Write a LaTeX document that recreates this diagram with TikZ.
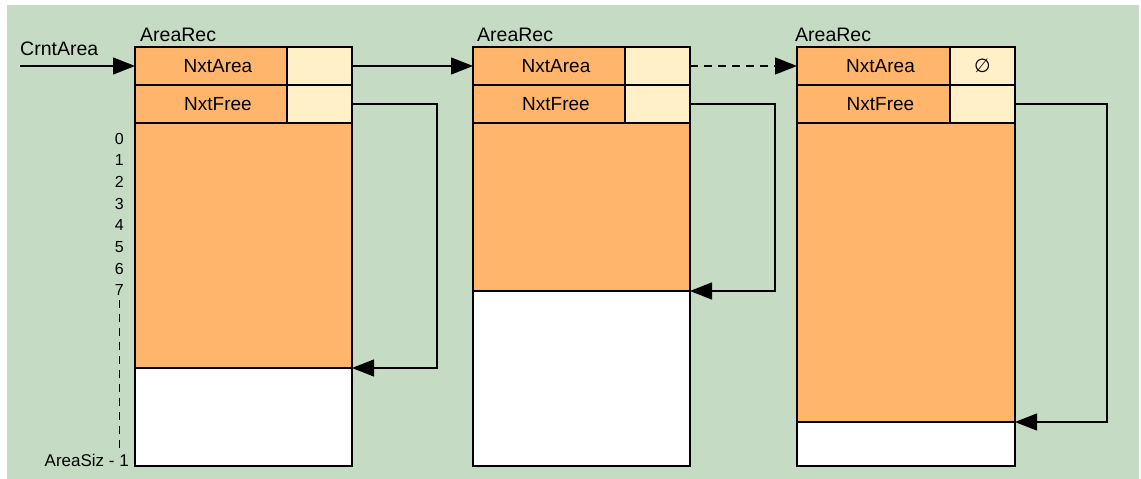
\documentclass[tikz,border=0pt]{standalone}
\usepackage{fontspec}
\setmainfont{Liberation Sans}
\newfontfamily\symfont{DejaVu Sans}
\usetikzlibrary{arrows.meta}

\definecolor{bggreen}{HTML}{C6DBC3}
\definecolor{cellorange}{HTML}{FFB66C}
\definecolor{cellcream}{HTML}{FFF0C8}

\tikzset{
  cell/.style={draw, line width=1.5pt, anchor=north west, inner sep=0pt, outer sep=0pt,
    font=\fontsize{19}{22}\selectfont},
  fieldcell/.style={cell, fill=cellorange, minimum width=152, minimum height=38},
  valcell/.style={cell, fill=cellcream, minimum width=65, minimum height=38},
  usedcell/.style={cell, fill=cellorange, minimum width=217},
  freecell/.style={cell, fill=white, minimum width=217},
  caption/.style={inner sep=0pt, anchor=base west, font=\fontsize{19.5}{22}\selectfont},
  idx/.style={inner sep=0pt, anchor=east, font=\fontsize{16}{18}\selectfont},
  link/.style={line width=1.3pt, -{Triangle[length=22pt,width=17pt]}},
  linkdash/.style={link, dash pattern=on 8pt off 6pt},
  guide/.style={line width=1pt, dash pattern=on 8pt off 6pt},
}

\begin{document}
\begin{tikzpicture}[x=1pt,y=-1pt]
  \useasboundingbox (0,0) rectangle (1141,479);
  \fill[bggreen] (7,5) rectangle (1139,479);

  % record 1
  \node[caption] (c1) at (140,41) {AreaRec};
  \node[fieldcell] (f1) at (135,47) {\hspace*{14pt}NxtArea};
  \node[valcell] (v1) at (287,47) {};
  \node[fieldcell] (g1) at (135,85) {\hspace*{14pt}NxtFree};
  \node[valcell] (w1) at (287,85) {};
  \node[usedcell, minimum height=245] (u1) at (135,123) {};
  \node[freecell, minimum height=98] (e1) at (135,368) {};

  % record 2
  \node[caption] (c2) at (477,41) {AreaRec};
  \node[fieldcell] (f2) at (473,47) {\hspace*{14pt}NxtArea};
  \node[valcell] (v2) at (625,47) {};
  \node[fieldcell] (g2) at (473,85) {\hspace*{14pt}NxtFree};
  \node[valcell] (w2) at (625,85) {};
  \node[usedcell, minimum height=168] (u2) at (473,123) {};
  \node[freecell, minimum height=175] (e2) at (473,291) {};

  % record 3
  \node[caption] (c3) at (795,41) {AreaRec};
  \node[fieldcell, minimum width=153] (f3) at (797,47) {\hspace*{14pt}NxtArea};
  \node[valcell] (v3) at (950,47) {\symfont ∅};
  \node[fieldcell, minimum width=153] (g3) at (797,85) {\hspace*{14pt}NxtFree};
  \node[valcell] (w3) at (950,85) {};
  \node[usedcell, minimum width=218, minimum height=299] (u3) at (797,123) {};
  \node[freecell, minimum width=218, minimum height=44] (e3) at (797,422) {};

  % entry pointer
  \node[caption] (crnt) at (20,55) {CrntArea};
  \coordinate (start) at (20,66);
  \draw[link] (start) -- (f1.west);

  % area chain
  \draw[link] (v1.east) -- (f2.west);
  \draw[linkdash] (v2.east) -- (f3.west);

  % free pointers
  \draw[link] (w1.east) -- ++(85,0) |- (u1.south east);
  \draw[link] (w2.east) -- ++(85,0) |- (u2.south east);
  \draw[link] (w3.east) -- ++(92,0) |- (u3.south east);

  % element indices
  \foreach \i in {0,...,7}
    \node[idx] (i\i) at (124,{138.5+21.7*\i}) {\i};
  \coordinate (gtop) at (119,300);
  \coordinate (gbot) at (119,448);
  \draw[guide] (gtop) -- (gbot);
  \node[idx, font=\fontsize{17}{19}\selectfont] (last) at (129,460.5) {AreaSiz - 1};
\end{tikzpicture}
\end{document}
